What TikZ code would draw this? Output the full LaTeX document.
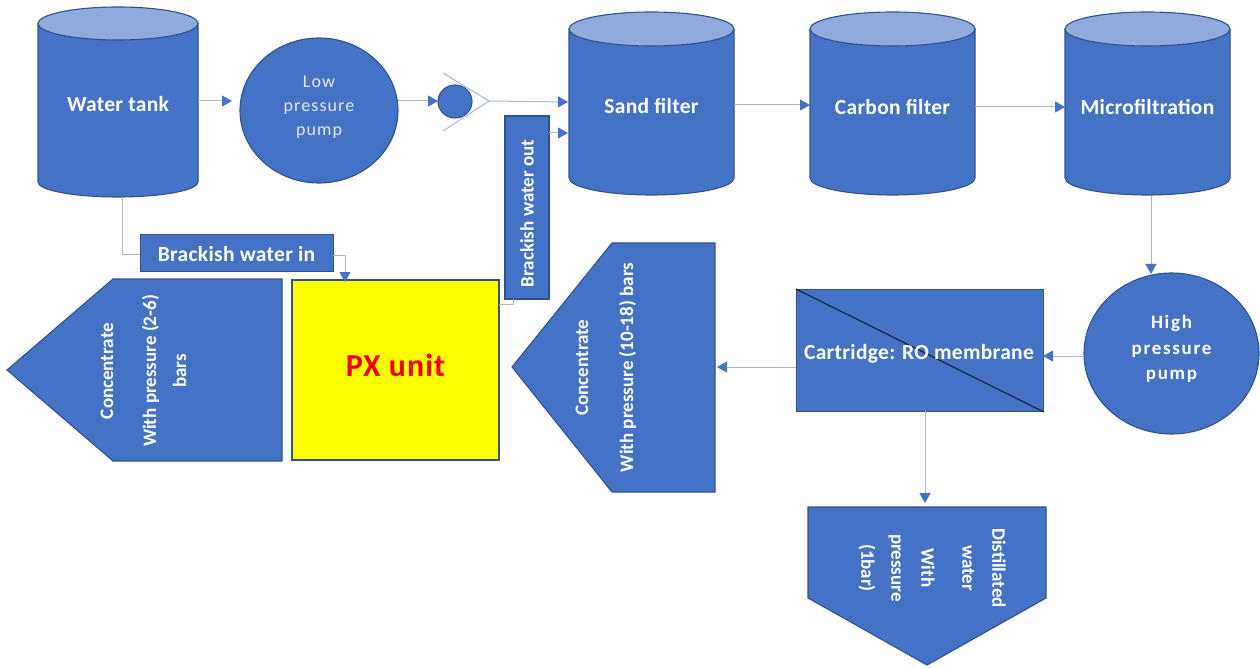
\documentclass[tikz,border=0pt]{standalone}
\usepackage{fontspec}
\setmainfont{Carlito}
\usetikzlibrary{arrows.meta,calc}
\definecolor{bfill}{HTML}{4472C4}
\definecolor{bedge}{HTML}{2F528F}
\definecolor{btop}{HTML}{8FAADC}
\definecolor{wire}{HTML}{A9B7CF}
\definecolor{pxfill}{HTML}{FFFF00}
\definecolor{pxtext}{HTML}{F00000}
\tikzset{
  x=1pt,y=-1pt,
  solid shape/.style={fill=bfill,draw=bedge,line width=1.1pt},
  label text/.style={text=white,font=\fontsize{21.5}{24}\selectfont\bfseries\addfontfeature{LetterSpace=1.5},inner sep=0pt,align=center},
  side text/.style={text=white,font=\fontsize{19}{#1}\selectfont\bfseries,inner sep=0pt,align=center},
  box/.style={solid shape,minimum width=#1,inner sep=0pt},
  wire line/.style={draw=wire,line width=1pt},
  flow/.style={wire line,-{Triangle[length=10pt,width=11pt,fill=bfill,color=bfill]}},
  ghost/.style={inner sep=0pt,text=white,align=center},
}
\newcommand{\cyl}[9]{% name, left, right, text, top centre y, top ry, bottom centre y, bottom ry, text y
  \path[solid shape] (#2,#5) -- (#2,#7) arc[start angle=180,end angle=0,x radius={(#3-#2)/2},y radius=#8]
     -- (#3,#5) -- cycle;
  \path[fill=btop,draw=bedge,line width=1.1pt] ({(#2+#3)/2},#5) ellipse[x radius={(#3-#2)/2},y radius=#6];
  \node[label text] (#1) at ({(#2+#3)/2},#9) {#4};
}
\begin{document}
\begin{tikzpicture}
\useasboundingbox (0,0) rectangle (1260,668);
\fill[white] (0,0) rectangle (1260,668);

% cylinders
\cyl{tank}{38}{198}{Water tank}{23.5}{16.5}{182}{15}{104}
\cyl{sand}{569}{734}{Sand filter}{29}{17}{178}{17}{106}
\cyl{carbon}{810}{975}{Carbon filter}{29}{17}{178}{17}{107}
\cyl{micro}{1065}{1230}{Microfiltration}{29}{17}{178}{17}{107}

% circles
\path[solid shape] (319,110.5) ellipse[x radius=79,y radius=72.5];
\node[ghost,font=\fontsize{18}{24}\selectfont\addfontfeature{LetterSpace=6},text=white!85!bfill] (low) at (319,107) {Low\\pressure\\pump};
\path[solid shape] (1171.5,353.5) ellipse[x radius=87.5,y radius=80.5];
\node[ghost,font=\fontsize{19}{25.5}\selectfont\bfseries\addfontfeature{LetterSpace=9}] (high) at (1171.5,349) {High\\pressure\\pump};

% check valve
\path[solid shape] (455,101.5) ellipse[x radius=17,y radius=16.5];
\node[inner sep=0pt,minimum width=34pt,minimum height=33pt] (valve) at (455,101.5) {};
\coordinate (vtip) at (489,101);
\coordinate (vup) at (443,73);
\coordinate (vlo) at (443,131);
\draw[wire line] (vup) -- (vtip) -- (vlo);

% boxes
\node[box=193pt,minimum height=37pt,anchor=north west] (bin) at (140,234) {};
\node[label text] (binlabel) at (236.5,254) {Brackish water in};
\node[box=44pt,minimum height=183pt] (bout) at (527,207.5) {};
\node[side text=24,rotate=90] (boutlabel) at (527,213.5) {Brackish water out};
\node[fill=pxfill,draw=bedge,line width=1.2pt,inner sep=0pt,minimum width=207pt,minimum height=180pt] (px) at (395.5,370) {};
\node[text=pxtext,font=\fontsize{32}{36}\selectfont\bfseries\addfontfeature{LetterSpace=3},inner sep=0pt] (pxlabel) at (395.5,365) {PX unit};
\node[box=247pt,minimum height=122pt,anchor=north west] (ro) at (796,289) {};
\draw[black!70!bedge,line width=1pt] (ro.north west) -- (ro.south east);
\node[label text] (rolabel) at (919,354) {Cartridge: RO membrane};

% pentagons
\path[solid shape] (7,370) -- (113,279) -- (282,279) -- (282,461) -- (113,461) -- cycle;
\node[side text=30,rotate=90] (cone) at (143.5,371) {Concentrate\\[13pt]With pressure (2-6)\\bars};
\path[solid shape] (512,367) -- (612,243) -- (715,243) -- (715,492) -- (612,492) -- cycle;
\node[side text=45,rotate=90] (conb) at (606,367.5) {Concentrate\\With pressure (10-18) bars};
\path[solid shape] (808,507) -- (1046,507) -- (1046,598) -- (927,665) -- (808,598) -- cycle;
\node[side text=30,rotate=-90] (dist) at (932,568) {Distillated\\water\\[11pt]With\\pressure\\(1bar)};

% connector ends
\coordinate (lowin) at (232,101);
\coordinate (valvein) at (438,101);
\coordinate (sandin) at (568,102);
\coordinate (sandinb) at (568,133);
\coordinate (carbonin) at (810,105);
\coordinate (microin) at (1065,107);
\coordinate (highin) at (1151,274);
\coordinate (roin) at (1043,356);
\coordinate (conbin) at (717,367);
\coordinate (distin) at (925,503);
\coordinate (pxin) at (345,282);
\coordinate (tankout) at (122,197);

\draw[flow] (198,101) -- (lowin);
\draw[flow] (398,101) -- (valvein);
\draw[flow] (vtip) -- (sandin);
\draw[flow] (549,133) -- (sandinb);
\draw[flow] (734,105) -- (carbonin);
\draw[flow] (975,107) -- (microin);
\draw[flow] (1151,196) -- (highin);
\draw[flow] (1084,356) -- (roin);
\draw[flow] (796,367) -- (conbin);
\draw[flow] (925,411) -- (distin);
\draw[wire line] (tankout) -- (122,255) -- (140,255);
\draw[flow] (333,256) -- (345,256) -- (pxin);
\draw[wire line] (499,304) -- (513,304) -- (513,299);
\end{tikzpicture}
\end{document}
